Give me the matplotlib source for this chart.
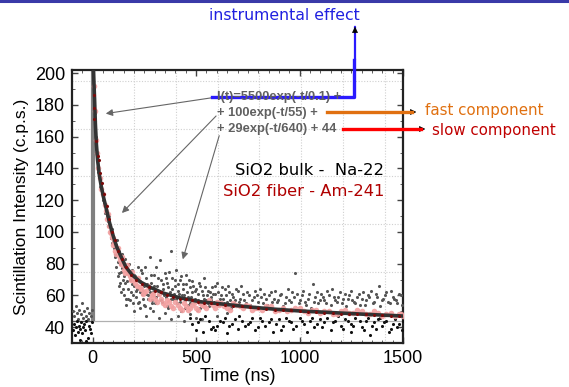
import matplotlib
matplotlib.use("Agg")
import matplotlib.pyplot as plt
from matplotlib.lines import Line2D
from matplotlib.patches import FancyArrowPatch

# ---------------- data ----------------
fit_t = [3, 6, 9, 13, 18, 24, 32, 41, 52, 65, 81, 98, 115, 135, 160, 190, 230, 280,
         340, 420, 520, 630, 750, 880, 1000, 1150, 1300, 1500]
fit_y = [205, 194, 184, 168, 155, 145, 136, 129, 122, 115, 106, 98, 91, 85, 78, 73,
         68.5, 65, 61.5, 58.5, 56, 54.5, 52.8, 51.3, 50.2, 49.2, 48.2, 47]

gray_pts = [
    (-95, 50), (-88, 47), (-82, 53), (-76, 49), (-70, 45), (-64, 51), (-58, 48), (-52, 55),
    (-46, 46), (-40, 50), (-34, 47), (-28, 52), (-22, 45), (-16, 49), (-10, 47), (-5, 51),
    (6, 190), (8, 180), (10, 175), (12, 170), (15, 160), (17, 152), (20, 150), (22, 146),
    (26, 140), (28, 138), (30, 136), (34, 132), (36, 128), (38, 131), (44, 124), (46, 127),
    (50, 120), (55, 118), (58, 112), (62, 114), (68, 110), (72, 107), (75, 104), (78, 110),
    (85, 100), (88, 96), (92, 102), (95, 93), (100, 95), (105, 90), (108, 86),
    (110, 84), (115, 78), (118, 95), (122, 72), (125, 88), (128, 66), (132, 80), (135, 75),
    (138, 62), (142, 86), (145, 70), (150, 60), (155, 83), (158, 68), (162, 58), (165, 74),
    (170, 64), (175, 80), (178, 57), (182, 70), (186, 62), (190, 76), (195, 55), (200, 66),
    (205, 72), (210, 59), (215, 64), (220, 78), (225, 56), (230, 69), (236, 61), (240, 74),
    (245, 58), (250, 66), (252, 78), (255, 53), (260, 71), (265, 60), (270, 64), (275, 52),
    (276, 84), (280, 68), (285, 57), (290, 62), (295, 73), (300, 55), (305, 78), (310, 66),
    (318, 60), (324, 82), (330, 70), (336, 56), (342, 64), (348, 74), (355, 59), (360, 68),
    (366, 52), (372, 62), (380, 88), (385, 71), (390, 58), (396, 66), (402, 76), (408, 55),
    (414, 63), (420, 70), (426, 50), (432, 60), (438, 67), (444, 57), (450, 73), (456, 62),
    (462, 54), (468, 65), (475, 59), (482, 69), (490, 56), (496, 63), (503, 51), (510, 61),
    (518, 66), (525, 55), (532, 60), (540, 71), (548, 57), (555, 63), (562, 53), (570, 59),
    (578, 65), (585, 56), (592, 61), (600, 68), (610, 54), (620, 60), (630, 58), (640, 64),
    (650, 56), (660, 62), (670, 52), (680, 59), (690, 57), (700, 63), (710, 58), (725, 61),
    (740, 55), (755, 60), (770, 57), (785, 63), (800, 56), (815, 59), (830, 61), (845, 54),
    (860, 62), (875, 58), (890, 56), (905, 60), (920, 53), (935, 59), (950, 57), (965, 62),
    (980, 74), (995, 55), (1010, 60), (1025, 56), (1040, 58), (1055, 52), (1063, 67),
    (1075, 59), (1090, 55), (1105, 61), (1120, 57), (1135, 63), (1150, 54), (1165, 59),
    (1180, 56), (1195, 62), (1210, 58), (1225, 53), (1240, 60), (1255, 57), (1270, 55),
    (1285, 61), (1300, 58), (1315, 54), (1330, 60), (1345, 63), (1360, 56), (1375, 59),
    (1390, 53), (1405, 58), (1420, 62), (1435, 55), (1450, 59), (1465, 57), (1480, 61),
    (1495, 54), (160, 54), (200, 50), (230, 52), (260, 47), (290, 50), (320, 46), (350, 49),
    (380, 45), (410, 47), (440, 44), (470, 48), (500, 46), (530, 45), (600, 47), (650, 49),
    (112, 92), (120, 81), (127, 74), (133, 68), (140, 77), (148, 64), (153, 72), (168, 69),
    (173, 58), (188, 67), (193, 60), (198, 73), (208, 63), (218, 55), (228, 62), (233, 76),
    (243, 63), (248, 54), (258, 61), (263, 67), (268, 58), (278, 62), (283, 73), (288, 55),
    (298, 66), (308, 59), (315, 71), (322, 63), (328, 57), (338, 67), (345, 60), (352, 71),
    (358, 53), (364, 65), (370, 75), (377, 58), (383, 64), (393, 61), (399, 70), (405, 58),
    (411, 67), (417, 61), (423, 56), (429, 72), (435, 64), (441, 60), (447, 52), (453, 67),
    (459, 59), (465, 70), (471, 55), (478, 62), (486, 66), (493, 58), (500, 64), (507, 57),
    (514, 68), (521, 52), (528, 63), (536, 58), (544, 65), (552, 60), (559, 55), (566, 62),
    (574, 57), (582, 61), (589, 66), (597, 55), (605, 62), (615, 58), (625, 65), (635, 55),
    (645, 60), (655, 66), (665, 57), (675, 61), (685, 55), (695, 64), (705, 56), (718, 66),
    (732, 57), (748, 62), (762, 54), (778, 59), (792, 60), (808, 64), (822, 55), (838, 58),
    (852, 60), (868, 56), (882, 63), (898, 57), (912, 61), (928, 55), (942, 64), (958, 56),
    (972, 59), (988, 61), (1002, 57), (1018, 63), (1032, 54), (1048, 61), (1068, 56),
    (1083, 62), (1098, 57), (1113, 59), (1128, 55), (1143, 60), (1158, 64), (1173, 57),
    (1188, 59), (1203, 55), (1218, 61), (1233, 58), (1248, 63), (1263, 56), (1278, 59),
    (1293, 54), (1308, 62), (1323, 57), (1338, 59), (1353, 55), (1368, 61), (1383, 66),
    (1398, 57), (1413, 60), (1428, 56), (1443, 63), (1458, 58), (1473, 55), (1488, 60),
]
gray_t = [p[0] for p in gray_pts]
gray_y = [p[1] for p in gray_pts]

black_pts = [
    (-95, 38), (-90, 42), (-85, 35), (-80, 40), (-75, 44), (-70, 37), (-65, 41), (-60, 39),
    (-55, 43), (-50, 36), (-45, 40), (-40, 42), (-35, 38), (-30, 44), (-25, 33), (-20, 41),
    (-15, 39), (-10, 36), (-5, 43), (-60, 32), (-30, 31),
    (480, 42), (500, 38), (520, 45), (533, 37), (560, 44), (580, 40), (600, 41), (630, 43),
    (660, 41), (690, 45), (700, 39), (720, 44), (750, 42), (770, 46), (800, 40), (820, 44),
    (850, 43), (870, 37), (900, 45), (920, 41), (950, 44), (970, 39), (1000, 46), (1020, 42),
    (1050, 44), (1070, 40), (1100, 45), (1120, 43), (1150, 38), (1170, 44), (1200, 41),
    (1220, 45), (1250, 42), (1270, 46), (1300, 40), (1320, 44), (1340, 35), (1360, 43),
    (1380, 45), (1400, 41), (1420, 44), (1440, 39), (1460, 45), (1480, 42), (1500, 44),
    (1490, 47), (590, 38), (650, 36), (1250, 37),
    (470, 46), (510, 43), (545, 47), (570, 39), (615, 44), (640, 46), (675, 42), (705, 47),
    (735, 41), (760, 43), (785, 38), (810, 46), (835, 41), (860, 45), (885, 42), (910, 38),
    (935, 46), (960, 43), (985, 41), (1010, 44), (1035, 37), (1060, 46), (1085, 42),
    (1110, 40), (1135, 46), (1160, 43), (1185, 47), (1210, 39), (1235, 44), (1260, 41),
    (1290, 44), (1310, 38), (1330, 46), (1350, 41), (1370, 39), (1390, 46), (1410, 43),
    (1430, 37), (1450, 42), (1470, 40), (1495, 38),
]
black_t = [p[0] for p in black_pts]
black_y = [p[1] for p in black_pts]

pink_pts = [
    (5, 192), (10, 176), (16, 158), (22, 150), (28, 140), (35, 134), (42, 127), (50, 124),
    (58, 117), (66, 113), (75, 111), (84, 100), (92, 97), (100, 96), (110, 88), (120, 90),
    (130, 82), (140, 84), (152, 76), (165, 79), (178, 72), (190, 75), (205, 68), (220, 71),
    (235, 64), (250, 62), (268, 66), (285, 60), (300, 58), (320, 61), (340, 55), (360, 57),
    (380, 53), (400, 56), (420, 52), (440, 55), (460, 51), (480, 54), (500, 52), (520, 55),
    (540, 53), (560, 57), (580, 54), (600, 56), (620, 55), (650, 52), (680, 55), (710, 53),
    (740, 54), (770, 51), (800, 52), (840, 53), (880, 50), (920, 52), (960, 51), (1000, 52),
    (1040, 49), (1080, 51), (1120, 50), (1160, 48), (1200, 50), (1240, 49), (1280, 51),
    (1320, 48), (1360, 50), (1400, 47), (1440, 49), (1480, 48), (1500, 47),
    (70, 108), (80, 104), (88, 99), (96, 92), (105, 93), (115, 86), (125, 85), (135, 80),
    (146, 79), (158, 74), (172, 74), (185, 70), (198, 70), (212, 66), (228, 65), (242, 61),
    (258, 63), (275, 58), (292, 61), (310, 56), (330, 58), (350, 54), (370, 56), (390, 52),
    (410, 54), (430, 51), (450, 53), (470, 52), (490, 55), (510, 51), (530, 54), (550, 52),
    (570, 55), (590, 52), (610, 54), (635, 53), (665, 51), (695, 54), (725, 52), (755, 53),
    (785, 52), (820, 51), (860, 53), (900, 51), (940, 50), (980, 52), (1020, 50), (1060, 51),
    (1100, 49), (1140, 50), (1180, 48), (1220, 51), (1260, 49), (1300, 50), (1340, 48),
    (1380, 49), (1420, 48), (1460, 47), (1490, 48),
]
pink_t = [p[0] for p in pink_pts]
pink_y = [p[1] for p in pink_pts]

red_t = [4, 5, 7, 16, 26, 31, 37, 47, 57, 68, 80, 93, 107, 122, 140, 160, 185, 210, 240,
         270, 300, 330, 360, 390, 420, 450, 480, 510, 540, 570, 600, 640, 680, 720, 760,
         800, 840, 880, 920, 960, 1000, 1040, 1080, 1120, 1160, 1200, 1240, 1280, 1320,
         1360, 1400, 1440, 1480]
red_y = [186, 178, 171, 157, 148, 145, 137, 131, 124, 116, 108, 100, 95, 88, 83, 78, 73,
         70, 67, 65, 63, 62, 60, 59, 58, 57.5, 57, 56, 55.5, 55, 54.5, 54, 53.5, 53, 52.5,
         52, 51.5, 51, 51, 50.5, 50, 49.5, 49.5, 49, 49, 48.5, 48.5, 48, 48, 47.5, 47.5,
         47, 47]

x_ticks = [0, 500, 1000, 1500]
y_ticks = [40, 60, 80, 100, 120, 140, 160, 180, 200]
x_grid = [200, 405, 605, 805, 1005, 1210, 1415]
y_grid = [75, 105, 135, 165, 195]
baseline = 44

eq_lines = ["I(t)=5500exp(-t/0.1) +", "+ 100exp(-t/55) +", "+ 29exp(-t/640) + 44"]

# ---------------- figure ----------------
W, H = 569, 387
fig = plt.figure(figsize=(W / 100, H / 100), dpi=100)
ax = fig.add_axes([72 / W, 1 - 343 / H, (403 - 72) / W, (343 - 70) / H])


def fp(x, y):
    return (x / W, 1 - y / H)


ax.set_xlim(-100, 1500)
ax.set_ylim(30, 202)

for gx in x_grid:
    ax.axvline(gx, color="#d0d0d0", lw=0.8, ls=(0, (1, 1.5)), zorder=0)
for gy in y_grid:
    ax.axhline(gy, color="#d0d0d0", lw=0.8, ls=(0, (1, 1.5)), zorder=0)

# baseline
ax.plot([-100, 3], [baseline, baseline], color="#555555", lw=1.0, zorder=1)
ax.plot([3, 1500], [baseline, baseline], color="#b0b0b0", lw=0.9, zorder=1)
# instrumental peak
ax.plot([3, 3], [baseline, 205], color="#808080", lw=3.0, zorder=2, solid_capstyle="butt")

ax.scatter(gray_t, gray_y, s=5, color="#555555", lw=0, zorder=3)
ax.scatter(black_t, black_y, s=5, color="#111111", lw=0, zorder=3)
ax.scatter(pink_t, pink_y, s=16, color="#f2a0a0", lw=0, alpha=0.9, zorder=4)
ax.plot(fit_t, fit_y, color="#333333", lw=2.6, zorder=5)
ax.scatter(red_t, red_y, s=5, color="#7a0a0a", lw=0, zorder=6)

ax.set_xticks(x_ticks)
ax.set_yticks(y_ticks)
ax.set_xticks(range(-100, 1501, 50), minor=True)
ax.set_yticks(range(30, 201, 10), minor=True)
ax.tick_params(which="both", direction="in", top=True, right=True, color="#444444")
ax.tick_params(which="major", length=4, width=1, labelsize=13, pad=5)
ax.tick_params(which="minor", length=2, width=0.6)
for lab in ax.get_xticklabels() + ax.get_yticklabels():
    lab.set_family("Liberation Sans")
for s in ax.spines.values():
    s.set_linewidth(1.6)
    s.set_color("#222222")

ax.set_xlabel("Time (ns)", family="Liberation Sans", fontsize=13, labelpad=1)
ax.set_ylabel("Scintillation Intensity (c.p.s.)", family="Liberation Sans",
              fontsize=12.5, labelpad=4)

# top slide bar
fig.add_artist(Line2D([0, 1], [1 - 1 / H, 1 - 1 / H], color="#3a3aa8", lw=2.2))

# equations
for txt, yy in zip(eq_lines, [97, 113, 129]):
    fig.text(*fp(217, yy), txt, family="Liberation Sans", fontweight="bold",
             fontsize=9.3, color="#606060", ha="left", va="center")

# gray arrows from the equations to the curve
for (x0, y0), (x1, y1) in [((217, 97), (103, 114)), ((218, 114), (120, 215)),
                           ((220, 133), (182, 262))]:
    fig.add_artist(FancyArrowPatch(
        fp(x0, y0), fp(x1, y1), transform=fig.transFigure, arrowstyle="-|>",
        mutation_scale=10, color="#666666", lw=0.8))

# legend-like text
fig.text(*fp(384, 170), "SiO2 bulk -  Na-22", family="DejaVu Sans", fontsize=11.8,
         color="black", ha="right", va="center")
fig.text(*fp(384, 192), "SiO2 fiber - Am-241", family="DejaVu Sans", fontsize=11.8,
         color="#b00000", ha="right", va="center")

# instrumental effect (blue)
fig.add_artist(Line2D([212 / W, 354 / W, 354 / W], [1 - 97 / H, 1 - 97 / H, 1 - 60 / H],
                      color="#2a1aff", lw=2.4))
fig.add_artist(FancyArrowPatch(
    fp(355, 62), fp(355, 24), transform=fig.transFigure, arrowstyle="-",
    color="#2a1aff", lw=1.6))
fig.add_artist(FancyArrowPatch(
    fp(355, 36), fp(355, 24), transform=fig.transFigure, arrowstyle="-|>",
    mutation_scale=9, color="black", lw=0.5))
fig.text(*fp(284, 16), "instrumental effect", family="DejaVu Sans", fontsize=11.3,
         color="#2020e0", ha="center", va="center")

# fast component (orange)
fig.add_artist(Line2D([327 / W, 412 / W], [1 - 112 / H, 1 - 112 / H], color="#e07010", lw=2.4))
fig.add_artist(FancyArrowPatch(
    fp(405, 112), fp(419, 112), transform=fig.transFigure, arrowstyle="-|>",
    mutation_scale=9, color="black", lw=0.5))
fig.text(*fp(425, 110), "fast component", family="DejaVu Sans", fontsize=10.8,
         color="#e07010", ha="left", va="center")

# slow component (red)
fig.add_artist(Line2D([343 / W, 421 / W], [1 - 129 / H, 1 - 129 / H], color="#ff0000", lw=2.4))
fig.add_artist(FancyArrowPatch(
    fp(414, 129), fp(428, 129), transform=fig.transFigure, arrowstyle="-|>",
    mutation_scale=9, color="black", lw=0.5))
fig.text(*fp(432, 130), "slow component", family="DejaVu Sans", fontsize=10.8,
         color="#c00000", ha="left", va="center")

fig.savefig("out.png", dpi=100)
